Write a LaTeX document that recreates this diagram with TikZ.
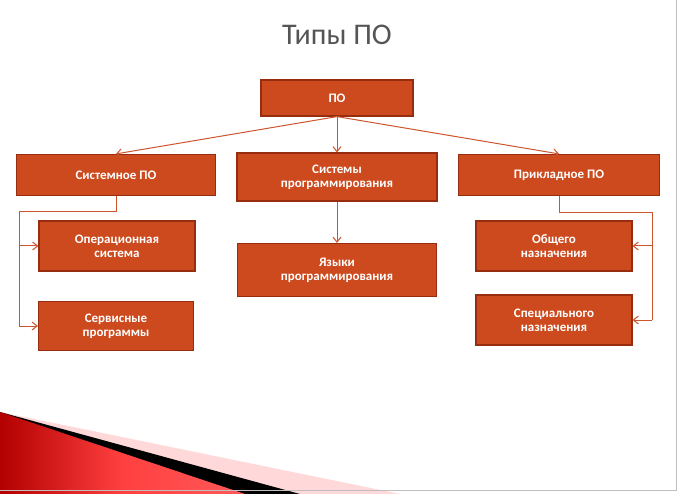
\documentclass[tikz,border=0pt]{standalone}
\usepackage{fontspec}
\setmainfont{Carlito}
\usetikzlibrary{arrows.meta}
\definecolor{boxfill}{RGB}{205,74,30}
\definecolor{boxedge}{RGB}{150,45,15}
\definecolor{linec}{RGB}{205,85,45}
\definecolor{titlec}{RGB}{85,85,85}
\tikzset{
  pbox/.style={draw=boxedge,line width=1.2pt,fill=boxfill,text=white,font=\bfseries\fontsize{13}{14}\selectfont,align=center,inner sep=0pt},
  conn/.style={draw=linec,line width=1pt},
  arr/.style={conn,-{Straight Barb[length=5pt,width=8pt]}}
}
\begin{document}
\begin{tikzpicture}[x=1pt,y=-1pt]
\useasboundingbox (0,0) rectangle (682,494);
\fill[white] (0,0) rectangle (682,494);
% decoration
\fill[red!15] (0,412) -- (400,494) -- (0,494) -- cycle;
\fill[black] (0,412) -- (300,494) -- (0,494) -- cycle;
\shade[left color=red!70!black, right color=red!65!white, middle color=red!75] (0,412) -- (245,494) -- (0,494) -- cycle;
\draw[gray!50,line width=1pt] (676,0) -- (676,490) -- (0,490);
% title
\node[font=\fontsize{30}{32}\selectfont,text=titlec] (title) at (337,35) {Типы ПО};
% boxes
\node[pbox,minimum width=152,minimum height=36] (po) at (337,98) {ПО};
\node[pbox,minimum width=199,minimum height=41] (sys) at (116,175) {Системное ПО};
\node[pbox,minimum width=200,minimum height=48] (prog) at (337,177) {Системы\\программирования};
\node[pbox,minimum width=201,minimum height=41] (app) at (559,175) {Прикладное ПО};
\node[pbox,minimum width=156,minimum height=50] (os) at (117,246) {Операционная\\система};
\node[pbox,minimum width=155,minimum height=49] (serv) at (116,326) {Сервисные\\программы};
\node[pbox,minimum width=199,minimum height=53] (lang) at (337,270) {Языки\\программирования};
\node[pbox,minimum width=156,minimum height=50] (gen) at (554,246) {Общего\\назначения};
\node[pbox,minimum width=156,minimum height=50] (spec) at (554,320) {Специального\\назначения};
% connectors
\draw[arr] (po.south) -- (sys.north);
\draw[arr] (po.south) -- (app.north);
\draw[arr] (po.south) -- (prog.north);
\draw[arr] (prog.south) -- (lang.north);
\coordinate (l1) at (19,212);
\draw[conn] (sys.south) |- (l1) -- (19,326);
\draw[arr] (19,246) -- (os.west);
\draw[arr] (19,326) -- (serv.west);
\coordinate (r1) at (652,213);
\draw[conn] (app.south) |- (r1) -- (652,320);
\draw[arr] (652,246) -- (gen.east);
\draw[arr] (652,320) -- (spec.east);
\end{tikzpicture}
\end{document}
